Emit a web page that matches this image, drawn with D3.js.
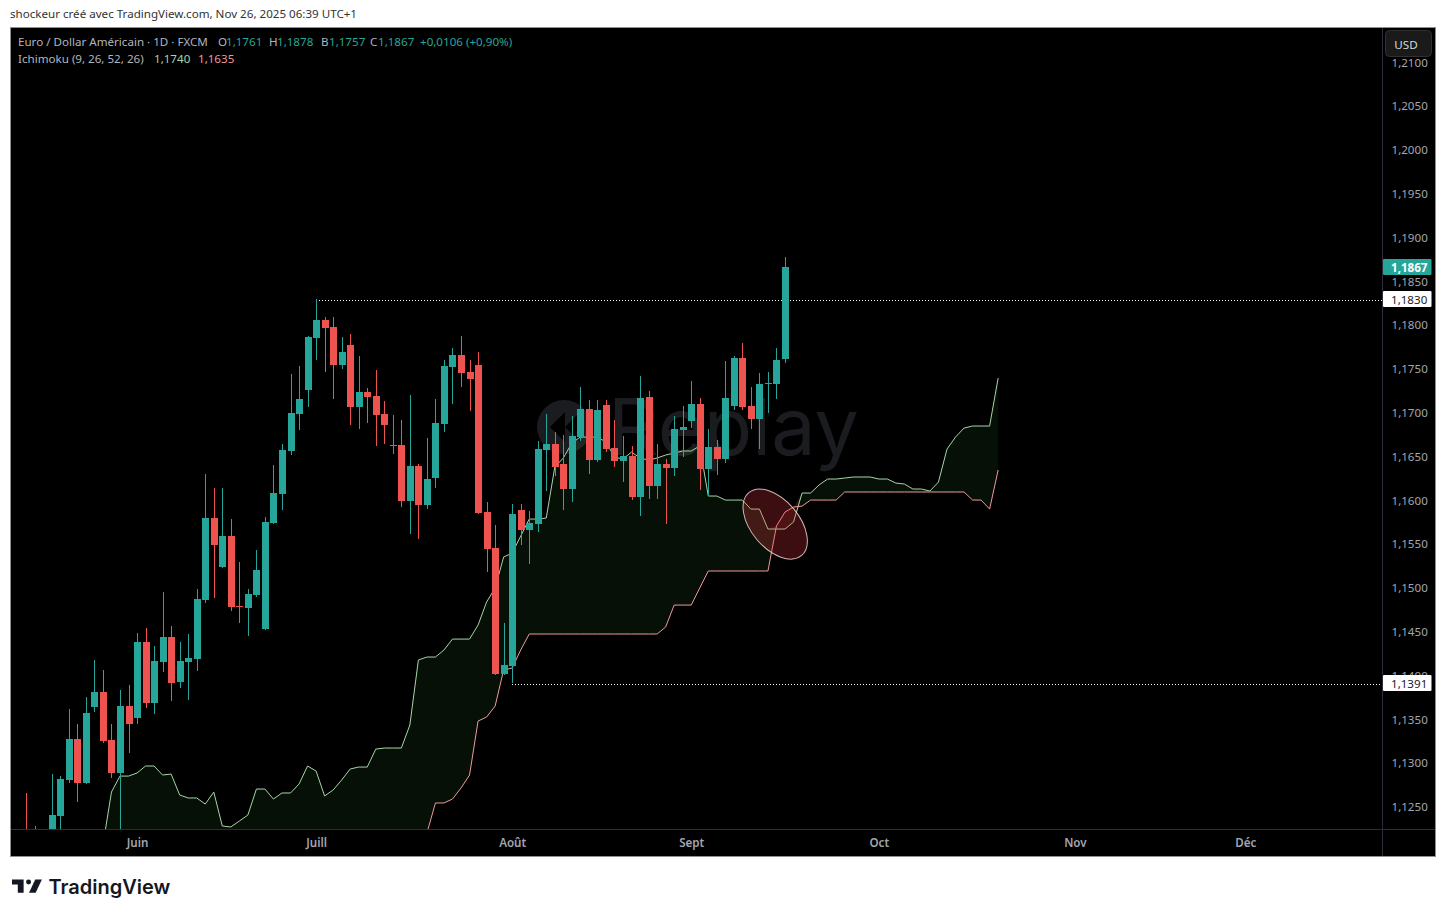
<!DOCTYPE html>
<html>
<head>
<meta charset="utf-8">
<title>Euro / Dollar Américain</title>
<script src="https://cdn.jsdelivr.net/npm/d3@7"></script>
<style>
html, body { margin: 0; padding: 0; background: #fff; overflow: hidden; }
svg { display: block; }
text { font-family: "Noto Sans", sans-serif; }
</style>
</head>
<body>
<svg id="chart" width="1446" height="917"></svg>
<script>
// daily candles
const opens = [1.1218,1.12066,1.12009,1.12123,1.12397,1.12808,1.13276,1.12773,1.13641,1.13812,
	1.13264,1.12888,1.13652,1.13516,1.14383,1.13687,1.14155,1.14441,1.13927,1.14155,
	1.14189,1.14863,1.15799,1.15239,1.15593,1.14794,1.14772,1.1492,1.14532,1.15741,
	1.16073,1.16564,1.16986,1.1726,1.17854,1.18059,1.17979,1.17545,1.17774,1.17066,
	1.17237,1.17191,1.16986,1.16628,1.16632,1.15993,1.16392,1.15947,1.16255,1.16872,
	1.17523,1.1766,1.17465,1.17545,1.15867,1.15456,1.14018,1.14109,1.1589,1.15662,
	1.1573,1.16575,1.16643,1.16415,1.1613,1.16723,1.17043,1.16461,1.17089,1.16598,
	1.1645,1.16507,1.16038,1.1718,1.16164,1.16415,1.1637,1.16803,1.16906,1.171,
	1.16358,1.16609,1.16472,1.17077,1.17625,1.17077,1.16929,1.17336,1.17328,1.1761];
const highs = [1.1266,1.12283,1.12214,1.12876,1.12853,1.13619,1.13447,1.13755,1.14178,1.14064,
	1.13447,1.13835,1.13892,1.14486,1.14543,1.14337,1.14954,1.14566,1.14383,1.14475,
	1.14989,1.16301,1.16141,1.16141,1.15787,1.15296,1.14989,1.15433,1.1581,1.16404,
	1.16643,1.17443,1.17534,1.17876,1.183,1.18093,1.18093,1.17865,1.17899,1.17648,
	1.17283,1.17488,1.17134,1.16974,1.16917,1.17203,1.16415,1.16712,1.17157,1.17602,
	1.17739,1.17876,1.17602,1.17694,1.15981,1.15719,1.146,1.15958,1.15958,1.15879,
	1.16678,1.16986,1.16781,1.16746,1.16963,1.17294,1.17146,1.17146,1.17146,1.16917,
	1.16735,1.16621,1.1742,1.17249,1.16643,1.16472,1.16963,1.17077,1.17362,1.17169,
	1.16815,1.16689,1.17591,1.17648,1.17797,1.17294,1.17454,1.17465,1.17739,1.1878];
const lows = [1.12009,1.12009,1.11952,1.12066,1.1218,1.12773,1.12557,1.12762,1.13584,1.1323,
	1.12831,1.12214,1.13116,1.13447,1.1363,1.13562,1.14041,1.1371,1.13858,1.13721,
	1.14052,1.14828,1.14886,1.15228,1.14737,1.146,1.14452,1.14897,1.1452,1.1573,
	1.1589,1.16518,1.16803,1.17066,1.17602,1.17465,1.17157,1.175,1.1686,1.16815,
	1.16883,1.16621,1.16643,1.16529,1.15924,1.15616,1.15559,1.15901,1.16141,1.1678,
	1.171,1.17294,1.1702,1.15844,1.15182,1.14006,1.14012,1.1391,1.15491,1.15274,
	1.15639,1.16107,1.16278,1.1589,1.15981,1.16678,1.16301,1.16438,1.16552,1.16381,
	1.1621,1.16004,1.15821,1.16016,1.16016,1.1573,1.16278,1.16495,1.16826,1.16118,
	1.1605,1.1629,1.16426,1.17032,1.17032,1.16815,1.16586,1.16997,1.17157,1.1757];
const closes = [1.12066,1.1218,1.12146,1.12408,1.12819,1.13276,1.12773,1.13573,1.13812,1.13253,
	1.12888,1.13652,1.13447,1.14383,1.13687,1.14166,1.14441,1.13915,1.14166,1.14201,
	1.14874,1.15799,1.15491,1.15593,1.14783,1.14787,1.14931,1.15205,1.15753,1.16084,
	1.16575,1.16997,1.17157,1.17865,1.18059,1.17968,1.17545,1.17694,1.17066,1.17237,
	1.1718,1.16974,1.1686,1.16635,1.15993,1.16392,1.15947,1.16244,1.16883,1.17534,
	1.1766,1.17454,1.17385,1.15856,1.15445,1.14018,1.14121,1.15844,1.15662,1.15741,
	1.16586,1.16643,1.16381,1.1613,1.16735,1.17043,1.16461,1.17032,1.16586,1.1645,
	1.16507,1.16038,1.17169,1.16164,1.16415,1.1637,1.16815,1.16838,1.171,1.16358,
	1.16609,1.16472,1.17169,1.17625,1.17066,1.16929,1.17328,1.17343,1.17602,1.1867];

// ichimoku cloud, first point sits under candle 9
const spanOffset = 9;
const spanA = [1.12066,1.12671,1.12853,1.12853,1.12888,1.12968,1.12968,1.12865,1.12876,1.12637,
	1.12603,1.12603,1.12534,1.12671,1.12283,1.12272,1.1234,1.12408,1.12705,1.12705,
	1.12591,1.1266,1.1266,1.12762,1.12968,1.12911,1.12626,1.12694,1.12808,1.12934,
	1.12956,1.12956,1.13161,1.13173,1.13173,1.13173,1.13436,1.14178,1.14212,1.14212,
	1.14292,1.14417,1.14417,1.14417,1.14577,1.1484,1.15,1.15354,1.15399,1.15593,
	1.15787,1.15787,1.15799,1.16381,1.16484,1.16655,1.16723,1.16723,1.16723,1.16666,
	1.16495,1.16472,1.16552,1.16484,1.16461,1.16484,1.16518,1.16541,1.16564,1.16564,
	1.16621,1.1605,1.1605,1.16004,1.16004,1.16004,1.15901,1.15901,1.15673,1.15673,
	1.15673,1.15753,1.16084,1.16084,1.16176,1.16244,1.16244,1.16255,1.16267,1.16267,
	1.16267,1.16244,1.16244,1.16198,1.16187,1.1613,1.1613,1.16107,1.1621,1.16586,
	1.16723,1.16826,1.16849,1.16849,1.16849,1.17397];
const spanB = [1.11895,1.11895,1.11895,1.11895,1.11895,1.11895,1.11895,1.11895,1.11895,1.11895,
	1.11895,1.11895,1.11895,1.11895,1.11895,1.11895,1.11895,1.11895,1.11895,1.11895,
	1.11895,1.11895,1.11895,1.11895,1.11895,1.11895,1.11895,1.11895,1.11895,1.11895,
	1.11895,1.11895,1.11895,1.11895,1.11895,1.11895,1.11895,1.11895,1.12203,1.12546,
	1.12546,1.12591,1.12717,1.12865,1.13481,1.13527,1.13652,1.14064,1.14086,1.14292,
	1.14475,1.14475,1.14475,1.14475,1.14475,1.14475,1.14475,1.14475,1.14475,1.14475,
	1.14475,1.14475,1.14475,1.14475,1.14475,1.14475,1.14554,1.14805,1.14805,1.14805,
	1.15,1.15194,1.15194,1.15194,1.15194,1.15194,1.15194,1.15194,1.15194,1.15708,
	1.15867,1.15924,1.15935,1.16004,1.16004,1.16004,1.16004,1.16096,1.16096,1.16096,
	1.16096,1.16096,1.16096,1.16096,1.16096,1.16096,1.16096,1.16096,1.16096,1.16096,
	1.16096,1.16096,1.16004,1.16004,1.15901,1.16347];

// axes
const priceTicks = [1.21,1.205,1.2,1.195,1.19,1.185,1.18,1.175,1.17,1.165,1.16,1.155,1.15,1.145,1.14,1.135,1.13,1.125];
const monthNames = ['Juin','Juill','Août','Sept','Oct','Nov','Déc'];
const monthIndex = [13,34,57,78,100,123,143];

// marked levels
const lastPrice = 1.1867;
const topLevel = 1.183, topLevelIndex = 34;
const bottomLevel = 1.1391, bottomLevelIndex = 57;

// the circled spot: candle index and price
const circleIndex = 87.85, circlePrice = 1.1573;

const titleText = 'Euro / Dollar Américain · 1D · FXCM';
const ohlcLabels = ['O','H','B','C'];
const ohlcValues = ['1,1761','1,1878','1,1757','1,1867'];
const changeText = '+0,0106 (+0,90%)';
const ichimokuText = 'Ichimoku (9, 26, 52, 26)';
const ichimokuValues = ['1,1740','1,1635'];

const UP = '#26a69a', DOWN = '#ef5350';
const frenchPrice = p => p.toFixed(4).replace('.', ',');

const svg = d3.select('#chart');
const x = d3.scaleLinear().domain([0, 89]).range([26.2, 785]);
const y = d3.scaleLinear().domain([1.2, 1.125]).range([150, 807]);

svg.append('text').attr('x', 10).attr('y', 18).attr('font-size', 11.6).attr('fill', '#333')
	.text('shockeur créé avec TradingView.com, Nov 26, 2025 06:39 UTC+1');

// chart frame
svg.append('rect').attr('x', 10.5).attr('y', 27.5).attr('width', 1425).attr('height', 829)
	.attr('fill', '#000').attr('stroke', '#8f8f8f');
svg.append('clipPath').attr('id', 'plot').append('rect')
	.attr('x', 11).attr('y', 28).attr('width', 1371).attr('height', 801);

const plot = svg.append('g').attr('clip-path', 'url(#plot)');

// watermark
const mark = plot.append('g').attr('fill', '#1b1c20');
mark.append('circle').attr('cx', 564).attr('cy', 427).attr('r', 27);
mark.append('path').attr('fill', '#000').attr('d', 'M550 427l15-15v30zM565 427l15-15v30z');
mark.append('text').attr('x', 608).attr('y', 455).attr('font-size', 79)
	.style('font-family', 'Inter, sans-serif').text('Replay');

// cloud
const spanIdx = d3.range(spanA.length);
const sx = i => x(i + spanOffset);
plot.append('path').attr('fill', 'rgba(67,160,71,0.1)')
	.attr('d', d3.area().x(sx).y0(i => y(spanB[i])).y1(i => y(Math.max(spanA[i], spanB[i])))(spanIdx));
plot.append('path').attr('fill', 'rgba(244,67,54,0.1)')
	.attr('d', d3.area().x(sx).y0(i => y(spanA[i])).y1(i => y(Math.max(spanA[i], spanB[i])))(spanIdx));
plot.append('path').attr('fill', 'none').attr('stroke', '#a5d6a7')
	.attr('d', d3.line().x(sx).y(i => y(spanA[i]))(spanIdx));
plot.append('path').attr('fill', 'none').attr('stroke', '#ef9a9a')
	.attr('d', d3.line().x(sx).y(i => y(spanB[i]))(spanIdx));

// level lines
[[topLevel, topLevelIndex], [bottomLevel, bottomLevelIndex]].forEach(function(d) {
	plot.append('line').attr('x1', Math.round(x(d[1]))).attr('x2', 1382)
		.attr('y1', Math.round(y(d[0]) + 0.6) + 0.5).attr('y2', Math.round(y(d[0]) + 0.6) + 0.5)
		.attr('stroke', '#fff').attr('stroke-dasharray', '1 2');
});

// candles
const candles = plot.selectAll('g.candle').data(opens).enter().append('g')
	.attr('class', 'candle').attr('shape-rendering', 'crispEdges')
	.attr('fill', (d, i) => closes[i] >= d ? UP : DOWN);
candles.append('rect')
	.attr('x', (d, i) => Math.round(x(i)))
	.attr('width', 1)
	.attr('y', (d, i) => Math.round(y(highs[i])))
	.attr('height', (d, i) => Math.round(y(lows[i])) - Math.round(y(highs[i])));
candles.append('rect')
	.attr('x', (d, i) => Math.round(x(i)) - 3)
	.attr('width', 7)
	.attr('y', (d, i) => Math.round(y(Math.max(d, closes[i]))))
	.attr('height', (d, i) => Math.max(1, Math.round(y(Math.min(d, closes[i]))) - Math.round(y(Math.max(d, closes[i])))));

// hand drawn ellipse
plot.append('ellipse')
	.attr('transform', 'translate(' + x(circleIndex) + ',' + y(circlePrice) + ') rotate(50)')
	.attr('rx', 41).attr('ry', 24)
	.attr('fill', 'rgba(242,54,69,0.25)').attr('stroke', 'rgba(255,225,225,0.8)').attr('stroke-width', 1);

// axis separators
svg.append('line').attr('x1', 1382.5).attr('x2', 1382.5).attr('y1', 28).attr('y2', 856).attr('stroke', '#2a2e39');
svg.append('line').attr('x1', 11).attr('x2', 1435).attr('y1', 829.5).attr('y2', 829.5).attr('stroke', '#2a2e39');

// price axis
const priceAxis = d3.axisRight(y).tickValues(priceTicks).tickSize(0).tickPadding(0).tickFormat(frenchPrice);
svg.append('g').attr('transform', 'translate(1391.5,0)').call(priceAxis)
	.call(g => g.select('.domain').remove())
	.selectAll('text').attr('fill', '#a3a6af').attr('font-size', 11.6).style('font-family', '"Noto Sans", sans-serif');

// time axis
const timeAxis = d3.axisBottom(x).tickValues(monthIndex).tickSize(0).tickPadding(0).tickFormat((d, i) => monthNames[i]);
svg.append('g').attr('transform', 'translate(0,839)').call(timeAxis)
	.call(g => g.select('.domain').remove())
	.selectAll('text').attr('fill', '#a3a6af').attr('font-size', 11.6).attr('font-weight', 600).style('font-family', '"Noto Sans", sans-serif');

// usd button
svg.append('rect').attr('x', 1385.5).attr('y', 30.5).attr('width', 46).attr('height', 26).attr('rx', 4)
	.attr('fill', '#1a1a1a').attr('stroke', '#303030');
svg.append('text').attr('x', 1406).attr('y', 49).attr('text-anchor', 'middle')
	.attr('font-size', 11.6).attr('fill', '#d8d8d8').text('USD');

// price labels
function priceLabel(p, bg, fg, weight) {
	const c = Math.round(y(p));
	svg.append('rect').attr('x', 1383).attr('y', c - 8).attr('width', 48.5).attr('height', 16).attr('rx', 1).attr('fill', bg);
	svg.append('text').attr('x', 1391).attr('y', c + 4.5).attr('font-size', 11.6).attr('font-weight', weight)
		.attr('fill', fg).text(frenchPrice(p));
}
priceLabel(lastPrice, UP, '#fff', 700);
priceLabel(topLevel, '#fff', '#222', 400);
priceLabel(bottomLevel, '#fff', '#222', 400);

// legend
const legend = svg.append('g').attr('font-size', 11.6);
legend.append('text').attr('x', 18).attr('y', 46).attr('fill', '#b2b5be').text(titleText);
const ohlcX = [218, 269, 321, 370];
ohlcLabels.forEach(function(l, i) {
	legend.append('text').attr('x', ohlcX[i]).attr('y', 46).attr('fill', '#b2b5be').text(l);
	legend.append('text').attr('x', ohlcX[i] + 8).attr('y', 46).attr('fill', UP).text(ohlcValues[i]);
});
legend.append('text').attr('x', 420).attr('y', 46).attr('fill', UP).text(changeText);
legend.append('text').attr('x', 18).attr('y', 63).attr('fill', '#b2b5be').text(ichimokuText);
legend.append('text').attr('x', 154).attr('y', 63).attr('fill', '#a5d6a7').text(ichimokuValues[0]);
legend.append('text').attr('x', 198).attr('y', 63).attr('fill', '#ef9a9a').text(ichimokuValues[1]);

// tradingview logo
const logo = svg.append('g').attr('transform', 'translate(12,874.5) scale(0.83)').attr('fill', '#131722');
logo.append('path').attr('d', 'M14 6H0v6h7v10h7V6Z');
logo.append('circle').attr('cx', 20).attr('cy', 9).attr('r', 3);
logo.append('path').attr('d', 'M28.5 22h-8l7.5-16h8l-7.5 16Z');
svg.append('text').attr('x', 48.5).attr('y', 894).attr('font-size', 20).attr('font-weight', 600)
	.style('font-family', 'Inter, sans-serif').attr('fill', '#131722').text('TradingView');
</script>
</body>
</html>
